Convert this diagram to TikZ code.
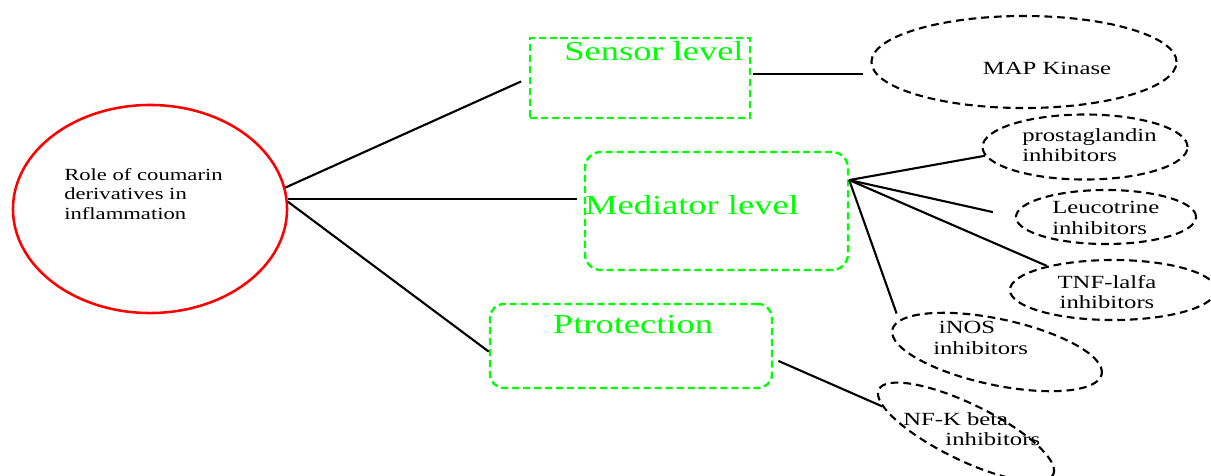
\documentclass[tikz,border=0pt]{standalone}
\usepackage{fontspec}
\newfontfamily\diagfont{Liberation Serif}[FakeStretch=1.33]
\usetikzlibrary{shapes.geometric}
\definecolor{lvlgreen}{RGB}{0,255,0}

\begin{document}
\begin{tikzpicture}[x=0.025cm, y=-0.025cm,
    levelbox/.style={draw=lvlgreen, line width=1.7pt, dash pattern=on 5pt off 2.8pt, inner sep=0pt},
    leaf/.style={ellipse, draw, line width=1.5pt, dash pattern=on 5.5pt off 3.5pt, inner sep=0pt},
    link/.style={line width=1.5pt},
    bigtext/.style={font=\diagfont\fontsize{19.5}{23}\selectfont, text=lvlgreen, inner sep=0pt},
    smalltext/.style={font=\diagfont\fontsize{13.2}{14.5}\selectfont, inner sep=0pt, align=left}]
    \useasboundingbox (0,0) rectangle (1211,475);
    \fill[white] (0,0) rectangle (1211,475);

    % Root
    \node[ellipse, draw=red, line width=1.8pt, minimum width=6.85cm, minimum height=5.2cm, inner sep=0pt] (role) at (150,209) {};
    \node[anchor=west, align=left, inner sep=0pt, font=\diagfont\fontsize{12.1}{13.8}\selectfont] (roletext) at (64,194) {Role of coumarin\\derivatives in\\inflammation};

    % Levels
    \node[levelbox, minimum width=5.5cm, minimum height=2cm] (sensor) at (640,78) {};
    \node[bigtext, anchor=base] (sensortext) at (654,60) {Sensor level};
    \node[levelbox, rounded corners=0.4cm, minimum width=6.575cm, minimum height=2.95cm] (mediator) at (716.5,211) {};
    \node[bigtext, anchor=base] (mediatortext) at (692,214) {Mediator level};
    \node[levelbox, rounded corners=0.35cm, minimum width=7.05cm, minimum height=2.1cm] (protection) at (631,346) {};
    \node[bigtext, anchor=base] (protectiontext) at (633,333) {Ptrotection};

    % Targets
    \node[leaf, minimum width=7.625cm, minimum height=2.3cm] (map) at (1024,62) {};
    \node[smalltext, anchor=base] (maptext) at (1047,74) {MAP Kinase};
    \node[leaf, minimum width=5.125cm, minimum height=1.625cm] (prost) at (1085,147) {};
    \node[smalltext, anchor=west] (prosttext) at (1022,145) {prostaglandin\\inhibitors};
    \node[leaf, minimum width=4.5cm, minimum height=1.35cm] (leuco) at (1106,217) {};
    \node[smalltext, anchor=west] (leucotext) at (1052,218) {Leucotrine\\inhibitors};
    \node[leaf, minimum width=5.15cm, minimum height=1.5cm] (tnf) at (1113,290) {};
    \node[smalltext, align=center] (tnftext) at (1107,292) {TNF-lalfa\\inhibitors};
    \node[leaf, rotate=-12, minimum width=5.35cm, minimum height=1.65cm] (inos) at (997,352) {};
    \node[smalltext, anchor=west] (inostext) at (933,338) {\hspace*{4pt}iNOS\\inhibitors};
    \node[leaf, rotate=-26, minimum width=4.85cm, minimum height=1.4cm] (nfk) at (966,432) {};
    \node[smalltext, anchor=west] (nfktext) at (903,429) {NF-K beta\\\hspace*{30pt}inhibitors};

    % Connectors
    \coordinate (sensorR) at ([yshift=3pt]sensor.east);
    \coordinate (hub) at ([yshift=22pt]mediator.east);
    \coordinate (protR) at ([yshift=-9pt]protection.east);
    \draw[link, shorten >=6pt] (role.9) -- (sensor.west);
    \draw[link, shorten >=5pt] (role.4) -- (role.4 -| mediator.west);
    \draw[link] (role.3) -- ([yshift=-4pt]protection.west);
    \draw[link, shorten <=1.5pt, shorten >=5pt] (sensorR) -- (sensorR -| map.west);
    \draw[link] (hub) -- (prost.185);
    \draw[link, shorten >=16pt] (hub) -- (leuco.west);
    \draw[link] (hub) -- (tnf.160);
    \draw[link, shorten >=5pt] (hub) -- (inos.174);
    \draw[link, shorten <=4pt] (protR) -- (nfk.189);
\end{tikzpicture}
\end{document}
